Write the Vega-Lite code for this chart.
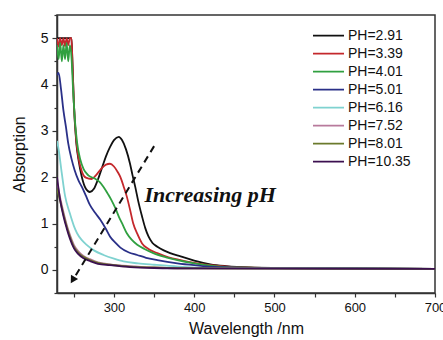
{
  "$schema": "https://vega.github.io/schema/vega-lite/v6.json",
  "width": 378,
  "height": 278,
  "autosize": {"type": "none"},
  "padding": {"left": 57, "top": 15, "right": 8, "bottom": 47},
  "background": "white",
  "config": {
    "view": {"stroke": "#333333", "strokeWidth": 1.5},
    "font": "Liberation Sans",
    "axis": {
      "domainColor": "#333333", "domainWidth": 1.5, "tickColor": "#333333", "tickWidth": 1.2, "tickSize": 4,
      "labelFont": "Liberation Sans", "labelFontSize": 13, "labelColor": "#111111",
      "titleFont": "Liberation Sans", "titleFontSize": 16, "titleFontWeight": "normal", "titleColor": "#111111",
      "grid": false
    }
  },
  "resolve": {"axis": {"y": "independent"}},
  "datasets": {
    "curves": [
      {"wl": 229, "A": 5, "s": "PH=2.91"}, {"wl": 247, "A": 5, "s": "PH=2.91"}, {"wl": 248, "A": 4.6, "s": "PH=2.91"}, {"wl": 250, "A": 3.6, "s": "PH=2.91"}, {"wl": 253, "A": 2.75, "s": "PH=2.91"}, {"wl": 256, "A": 2.35, "s": "PH=2.91"}, {"wl": 260, "A": 2.0, "s": "PH=2.91"}, {"wl": 265, "A": 1.75, "s": "PH=2.91"}, {"wl": 270, "A": 1.68, "s": "PH=2.91"}, {"wl": 275, "A": 1.75, "s": "PH=2.91"}, {"wl": 280, "A": 1.95, "s": "PH=2.91"}, {"wl": 285, "A": 2.2, "s": "PH=2.91"}, {"wl": 290, "A": 2.45, "s": "PH=2.91"}, {"wl": 295, "A": 2.65, "s": "PH=2.91"}, {"wl": 300, "A": 2.8, "s": "PH=2.91"}, {"wl": 306, "A": 2.87, "s": "PH=2.91"}, {"wl": 310, "A": 2.8, "s": "PH=2.91"}, {"wl": 315, "A": 2.6, "s": "PH=2.91"}, {"wl": 320, "A": 2.29, "s": "PH=2.91"}, {"wl": 323, "A": 2.05, "s": "PH=2.91"}, {"wl": 326.5, "A": 1.79, "s": "PH=2.91"}, {"wl": 330, "A": 1.5, "s": "PH=2.91"}, {"wl": 335, "A": 1.15, "s": "PH=2.91"}, {"wl": 339, "A": 0.9, "s": "PH=2.91"}, {"wl": 343, "A": 0.72, "s": "PH=2.91"}, {"wl": 348, "A": 0.58, "s": "PH=2.91"}, {"wl": 354, "A": 0.5, "s": "PH=2.91"}, {"wl": 362, "A": 0.42, "s": "PH=2.91"}, {"wl": 370, "A": 0.36, "s": "PH=2.91"}, {"wl": 383, "A": 0.29, "s": "PH=2.91"}, {"wl": 400, "A": 0.2, "s": "PH=2.91"}, {"wl": 420, "A": 0.12, "s": "PH=2.91"}, {"wl": 440, "A": 0.08, "s": "PH=2.91"}, {"wl": 470, "A": 0.05, "s": "PH=2.91"}, {"wl": 500, "A": 0.04, "s": "PH=2.91"}, {"wl": 700, "A": 0.02, "s": "PH=2.91"},

      {"wl": 229, "A": 5, "s": "PH=3.39"}, {"wl": 231, "A": 4.82, "s": "PH=3.39"}, {"wl": 233, "A": 5, "s": "PH=3.39"}, {"wl": 235, "A": 4.85, "s": "PH=3.39"}, {"wl": 237, "A": 5, "s": "PH=3.39"}, {"wl": 239, "A": 4.83, "s": "PH=3.39"}, {"wl": 241, "A": 5, "s": "PH=3.39"}, {"wl": 243, "A": 4.85, "s": "PH=3.39"}, {"wl": 245, "A": 5, "s": "PH=3.39"}, {"wl": 247, "A": 5, "s": "PH=3.39"}, {"wl": 248, "A": 4.6, "s": "PH=3.39"}, {"wl": 250, "A": 3.6, "s": "PH=3.39"}, {"wl": 253, "A": 2.8, "s": "PH=3.39"}, {"wl": 256, "A": 2.4, "s": "PH=3.39"}, {"wl": 260, "A": 2.12, "s": "PH=3.39"}, {"wl": 265, "A": 1.99, "s": "PH=3.39"}, {"wl": 272, "A": 1.96, "s": "PH=3.39"}, {"wl": 278, "A": 2.05, "s": "PH=3.39"}, {"wl": 284, "A": 2.18, "s": "PH=3.39"}, {"wl": 290, "A": 2.27, "s": "PH=3.39"}, {"wl": 295, "A": 2.29, "s": "PH=3.39"}, {"wl": 300, "A": 2.23, "s": "PH=3.39"}, {"wl": 305, "A": 2.1, "s": "PH=3.39"}, {"wl": 308, "A": 2.0, "s": "PH=3.39"}, {"wl": 312, "A": 1.8, "s": "PH=3.39"}, {"wl": 316, "A": 1.58, "s": "PH=3.39"}, {"wl": 320, "A": 1.3, "s": "PH=3.39"}, {"wl": 324, "A": 1.0, "s": "PH=3.39"}, {"wl": 329, "A": 0.78, "s": "PH=3.39"}, {"wl": 335, "A": 0.57, "s": "PH=3.39"}, {"wl": 343, "A": 0.45, "s": "PH=3.39"}, {"wl": 354, "A": 0.36, "s": "PH=3.39"}, {"wl": 368, "A": 0.27, "s": "PH=3.39"}, {"wl": 383, "A": 0.21, "s": "PH=3.39"}, {"wl": 400, "A": 0.15, "s": "PH=3.39"}, {"wl": 420, "A": 0.1, "s": "PH=3.39"}, {"wl": 450, "A": 0.06, "s": "PH=3.39"}, {"wl": 500, "A": 0.04, "s": "PH=3.39"}, {"wl": 700, "A": 0.02, "s": "PH=3.39"},

      {"wl": 229, "A": 4.85, "s": "PH=4.01"}, {"wl": 231, "A": 4.55, "s": "PH=4.01"}, {"wl": 233, "A": 4.9, "s": "PH=4.01"}, {"wl": 235, "A": 4.5, "s": "PH=4.01"}, {"wl": 237, "A": 4.85, "s": "PH=4.01"}, {"wl": 239, "A": 4.55, "s": "PH=4.01"}, {"wl": 241, "A": 4.9, "s": "PH=4.01"}, {"wl": 243, "A": 4.5, "s": "PH=4.01"}, {"wl": 245, "A": 4.85, "s": "PH=4.01"}, {"wl": 247, "A": 4.6, "s": "PH=4.01"}, {"wl": 249, "A": 3.9, "s": "PH=4.01"}, {"wl": 251, "A": 3.3, "s": "PH=4.01"}, {"wl": 254, "A": 2.75, "s": "PH=4.01"}, {"wl": 258, "A": 2.38, "s": "PH=4.01"}, {"wl": 262, "A": 2.18, "s": "PH=4.01"}, {"wl": 268, "A": 2.04, "s": "PH=4.01"}, {"wl": 276, "A": 1.97, "s": "PH=4.01"}, {"wl": 282, "A": 1.9, "s": "PH=4.01"}, {"wl": 287, "A": 1.79, "s": "PH=4.01"}, {"wl": 292, "A": 1.65, "s": "PH=4.01"}, {"wl": 297, "A": 1.5, "s": "PH=4.01"}, {"wl": 302, "A": 1.32, "s": "PH=4.01"}, {"wl": 306, "A": 1.15, "s": "PH=4.01"}, {"wl": 311, "A": 0.97, "s": "PH=4.01"}, {"wl": 316, "A": 0.79, "s": "PH=4.01"}, {"wl": 322, "A": 0.65, "s": "PH=4.01"}, {"wl": 329, "A": 0.54, "s": "PH=4.01"}, {"wl": 338, "A": 0.45, "s": "PH=4.01"}, {"wl": 349, "A": 0.36, "s": "PH=4.01"}, {"wl": 365, "A": 0.27, "s": "PH=4.01"}, {"wl": 379, "A": 0.21, "s": "PH=4.01"}, {"wl": 400, "A": 0.14, "s": "PH=4.01"}, {"wl": 420, "A": 0.09, "s": "PH=4.01"}, {"wl": 450, "A": 0.05, "s": "PH=4.01"}, {"wl": 500, "A": 0.04, "s": "PH=4.01"}, {"wl": 700, "A": 0.02, "s": "PH=4.01"},

      {"wl": 229, "A": 4.2, "s": "PH=5.01"}, {"wl": 231, "A": 4.25, "s": "PH=5.01"}, {"wl": 234, "A": 3.9, "s": "PH=5.01"}, {"wl": 237, "A": 3.44, "s": "PH=5.01"}, {"wl": 240, "A": 3.1, "s": "PH=5.01"}, {"wl": 243, "A": 2.73, "s": "PH=5.01"}, {"wl": 247, "A": 2.4, "s": "PH=5.01"}, {"wl": 251, "A": 2.15, "s": "PH=5.01"}, {"wl": 256, "A": 1.92, "s": "PH=5.01"}, {"wl": 260, "A": 1.79, "s": "PH=5.01"}, {"wl": 265, "A": 1.6, "s": "PH=5.01"}, {"wl": 270, "A": 1.4, "s": "PH=5.01"}, {"wl": 277, "A": 1.22, "s": "PH=5.01"}, {"wl": 283, "A": 1.08, "s": "PH=5.01"}, {"wl": 290, "A": 0.88, "s": "PH=5.01"}, {"wl": 295, "A": 0.72, "s": "PH=5.01"}, {"wl": 302, "A": 0.58, "s": "PH=5.01"}, {"wl": 308, "A": 0.48, "s": "PH=5.01"}, {"wl": 318, "A": 0.38, "s": "PH=5.01"}, {"wl": 329, "A": 0.32, "s": "PH=5.01"}, {"wl": 340, "A": 0.26, "s": "PH=5.01"}, {"wl": 354, "A": 0.21, "s": "PH=5.01"}, {"wl": 379, "A": 0.14, "s": "PH=5.01"}, {"wl": 400, "A": 0.1, "s": "PH=5.01"}, {"wl": 430, "A": 0.06, "s": "PH=5.01"}, {"wl": 500, "A": 0.04, "s": "PH=5.01"}, {"wl": 700, "A": 0.02, "s": "PH=5.01"},

      {"wl": 229, "A": 2.78, "s": "PH=6.16"}, {"wl": 231, "A": 2.6, "s": "PH=6.16"}, {"wl": 235, "A": 2.08, "s": "PH=6.16"}, {"wl": 239, "A": 1.6, "s": "PH=6.16"}, {"wl": 245, "A": 1.22, "s": "PH=6.16"}, {"wl": 250, "A": 0.95, "s": "PH=6.16"}, {"wl": 254, "A": 0.79, "s": "PH=6.16"}, {"wl": 260, "A": 0.64, "s": "PH=6.16"}, {"wl": 266, "A": 0.54, "s": "PH=6.16"}, {"wl": 275, "A": 0.42, "s": "PH=6.16"}, {"wl": 287, "A": 0.32, "s": "PH=6.16"}, {"wl": 300, "A": 0.24, "s": "PH=6.16"}, {"wl": 312, "A": 0.18, "s": "PH=6.16"}, {"wl": 330, "A": 0.14, "s": "PH=6.16"}, {"wl": 350, "A": 0.11, "s": "PH=6.16"}, {"wl": 380, "A": 0.07, "s": "PH=6.16"}, {"wl": 420, "A": 0.04, "s": "PH=6.16"}, {"wl": 500, "A": 0.03, "s": "PH=6.16"}, {"wl": 700, "A": 0.02, "s": "PH=6.16"},

      {"wl": 229, "A": 1.9, "s": "PH=7.52"}, {"wl": 233, "A": 1.55, "s": "PH=7.52"}, {"wl": 237, "A": 1.25, "s": "PH=7.52"}, {"wl": 241, "A": 0.98, "s": "PH=7.52"}, {"wl": 245, "A": 0.76, "s": "PH=7.52"}, {"wl": 250, "A": 0.54, "s": "PH=7.52"}, {"wl": 255, "A": 0.41, "s": "PH=7.52"}, {"wl": 262, "A": 0.3, "s": "PH=7.52"}, {"wl": 270, "A": 0.23, "s": "PH=7.52"}, {"wl": 280, "A": 0.16, "s": "PH=7.52"}, {"wl": 295, "A": 0.12, "s": "PH=7.52"}, {"wl": 320, "A": 0.08, "s": "PH=7.52"}, {"wl": 350, "A": 0.05, "s": "PH=7.52"}, {"wl": 400, "A": 0.03, "s": "PH=7.52"}, {"wl": 700, "A": 0.02, "s": "PH=7.52"},

      {"wl": 229, "A": 1.75, "s": "PH=8.01"}, {"wl": 233, "A": 1.48, "s": "PH=8.01"}, {"wl": 237, "A": 1.2, "s": "PH=8.01"}, {"wl": 241, "A": 0.94, "s": "PH=8.01"}, {"wl": 245, "A": 0.72, "s": "PH=8.01"}, {"wl": 250, "A": 0.5, "s": "PH=8.01"}, {"wl": 255, "A": 0.38, "s": "PH=8.01"}, {"wl": 262, "A": 0.28, "s": "PH=8.01"}, {"wl": 270, "A": 0.21, "s": "PH=8.01"}, {"wl": 280, "A": 0.15, "s": "PH=8.01"}, {"wl": 295, "A": 0.11, "s": "PH=8.01"}, {"wl": 320, "A": 0.07, "s": "PH=8.01"}, {"wl": 350, "A": 0.05, "s": "PH=8.01"}, {"wl": 400, "A": 0.03, "s": "PH=8.01"}, {"wl": 700, "A": 0.02, "s": "PH=8.01"},

      {"wl": 229, "A": 2.0, "s": "PH=10.35"}, {"wl": 233, "A": 1.5, "s": "PH=10.35"}, {"wl": 237, "A": 1.16, "s": "PH=10.35"}, {"wl": 241, "A": 0.9, "s": "PH=10.35"}, {"wl": 245, "A": 0.68, "s": "PH=10.35"}, {"wl": 250, "A": 0.47, "s": "PH=10.35"}, {"wl": 255, "A": 0.35, "s": "PH=10.35"}, {"wl": 262, "A": 0.25, "s": "PH=10.35"}, {"wl": 270, "A": 0.19, "s": "PH=10.35"}, {"wl": 280, "A": 0.13, "s": "PH=10.35"}, {"wl": 295, "A": 0.1, "s": "PH=10.35"}, {"wl": 320, "A": 0.06, "s": "PH=10.35"}, {"wl": 350, "A": 0.04, "s": "PH=10.35"}, {"wl": 400, "A": 0.03, "s": "PH=10.35"}, {"wl": 700, "A": 0.02, "s": "PH=10.35"}
    ],
    "arrow": [{"wl": 350, "A": 2.67, "wl2": 249.5, "A2": -0.2}],
    "head": [{"wl": 248.5, "A": -0.22}],
    "note": [{"wl": 338, "A": 1.47, "label": "Increasing pH"}]
  },
  "layer": [
    {
      "data": {"name": "curves"},
      "mark": {"type": "line", "strokeWidth": 1.8, "interpolate": "monotone", "clip": true},
      "encoding": {
        "x": {
          "field": "wl", "type": "quantitative",
          "scale": {"domain": [229, 700], "nice": false, "zero": false},
          "axis": {"title": "Wavelength /nm", "values": [250, 300, 350, 400, 450, 500, 550, 600, 650, 700],
                   "labelExpr": "datum.value % 100 === 0 ? datum.label : ''", "labelPadding": 4, "titlePadding": 6, "labelFlush": false, "labelOverlap": false}
        },
        "y": {
          "field": "A", "type": "quantitative",
          "scale": {"domain": [-0.5, 5.5], "nice": false, "zero": false},
          "axis": {"orient": "left", "title": "Absorption", "values": [0, 1, 2, 3, 4, 5],
                   "labelFontSize": 14, "labelPadding": 4, "titlePadding": 13, "labelFlush": false, "labelOverlap": false, "tickSize": 5}
        },
        "color": {
          "field": "s", "type": "nominal",
          "scale": {
            "domain": ["PH=2.91", "PH=3.39", "PH=4.01", "PH=5.01", "PH=6.16", "PH=7.52", "PH=8.01", "PH=10.35"],
            "range": ["#111111", "#c4282c", "#30a040", "#2a3088", "#7fd2d0", "#b87a9c", "#6b7a2c", "#3c1050"]
          },
          "legend": {
            "title": null, "orient": "none", "legendX": 255, "legendY": 12, "padding": 0,
            "symbolType": "stroke", "symbolSize": 961, "symbolStrokeWidth": 1.8,
            "labelFont": "Liberation Sans", "labelFontSize": 14, "labelColor": "#111111", "labelOffset": 3,
            "clipHeight": 17.3, "rowPadding": 0
          }
        }
      }
    },
    {
      "data": {"name": "arrow"},
      "mark": {"type": "rule", "color": "#111111", "strokeWidth": 2, "strokeDash": [7, 5]},
      "encoding": {
        "x": {"field": "wl", "type": "quantitative"},
        "y": {"field": "A", "type": "quantitative", "axis": null},
        "x2": {"field": "wl2"},
        "y2": {"field": "A2"}
      }
    },
    {
      "data": {"name": "head"},
      "mark": {"type": "point", "shape": "triangle-up", "filled": true, "color": "#111111", "size": 70, "angle": 211, "opacity": 1},
      "encoding": {
        "x": {"field": "wl", "type": "quantitative"},
        "y": {"field": "A", "type": "quantitative",
              "axis": {"orient": "left", "title": null, "values": [-0.5, 0.5, 1.5, 2.5, 3.5, 4.5, 5.5], "labels": false, "domain": false, "tickSize": 3, "grid": false}}
      }
    },
    {
      "data": {"name": "note"},
      "mark": {"type": "text", "align": "left", "baseline": "alphabetic", "font": "Liberation Serif", "fontStyle": "italic", "fontWeight": "bold", "fontSize": 22, "color": "#111111"},
      "encoding": {
        "x": {"field": "wl", "type": "quantitative"},
        "y": {"field": "A", "type": "quantitative", "axis": null},
        "text": {"field": "label"}
      }
    }
  ]
}
